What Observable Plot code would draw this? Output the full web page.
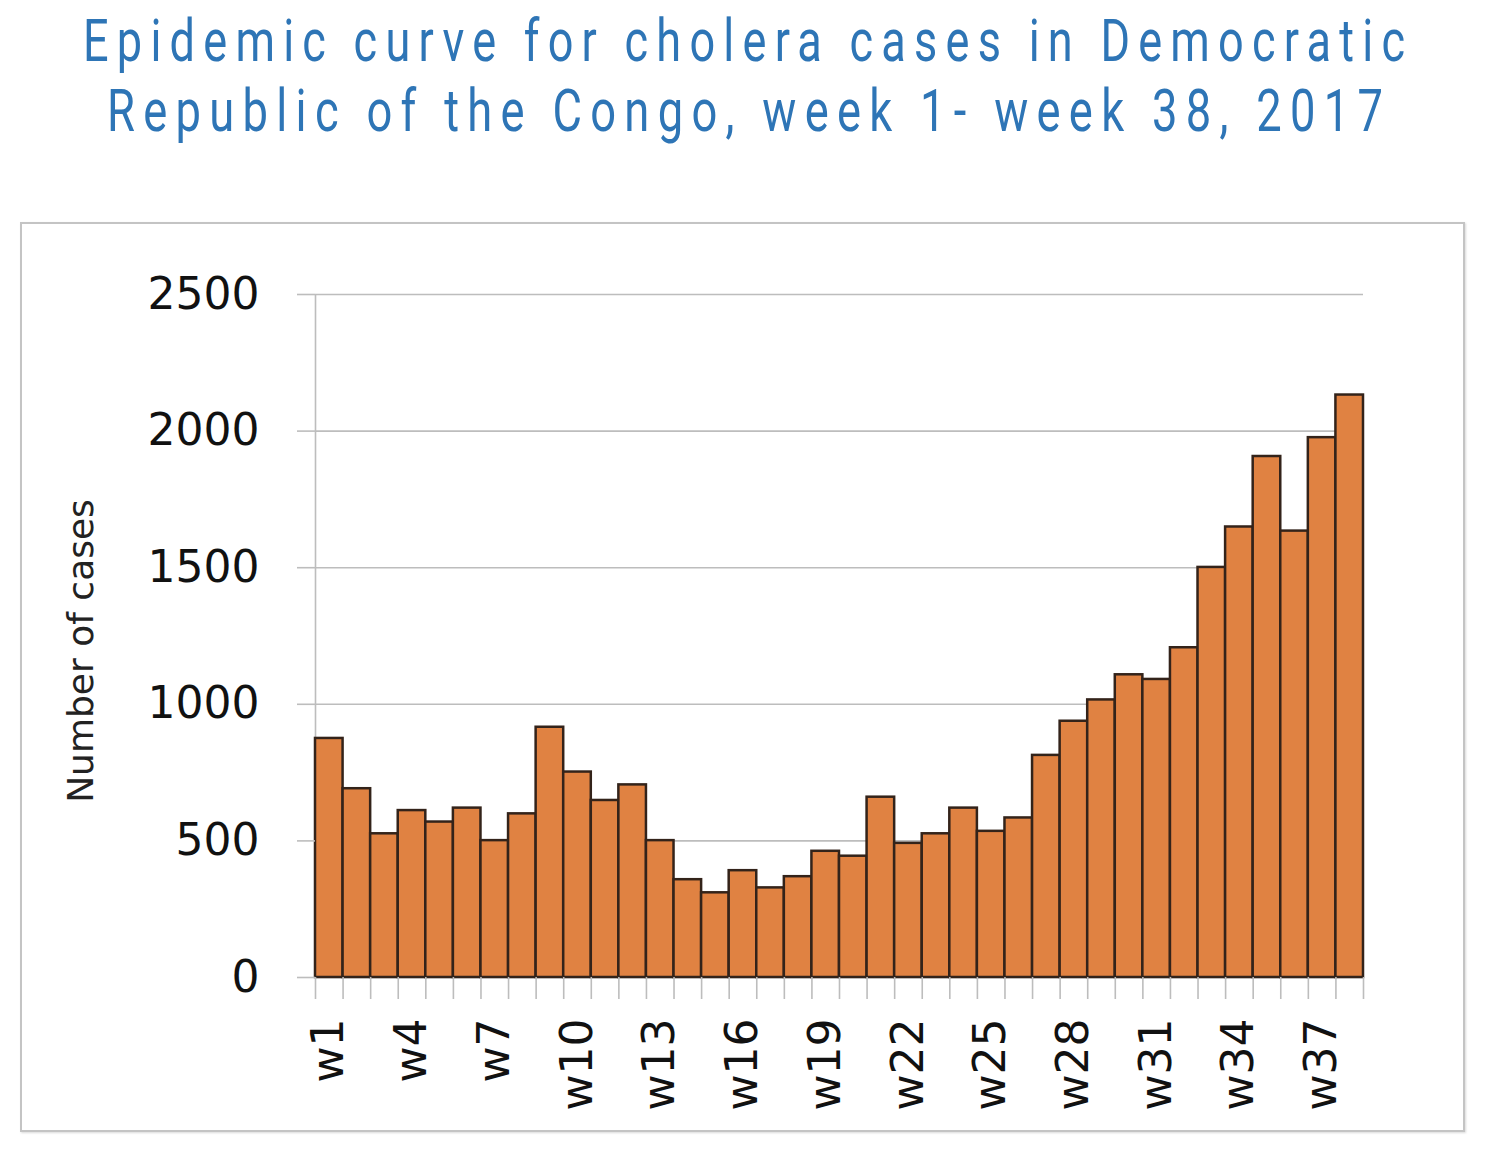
<!DOCTYPE html>
<html><head><meta charset="utf-8">
<script src="https://cdn.jsdelivr.net/npm/d3@7"></script>
<script src="https://cdn.jsdelivr.net/npm/@observablehq/plot@0.6"></script>
<style>
body{margin:0;background:#fff;width:1490px;height:1152px;position:relative;overflow:hidden}
.tl{position:absolute;left:0;color:#2e75b6;font-family:"Roboto",sans-serif;font-size:60px;line-height:70px;letter-spacing:11px;white-space:nowrap;transform-origin:0 50%}
#frame{position:absolute;left:20px;top:222px;width:1441px;height:906px;border:2px solid #c4c4c4;box-shadow:1px 1px 2px rgba(0,0,0,0.15)}
#frame svg{display:block}
</style></head>
<body>
<div class="tl" id="t1" style="top:6px">Epidemic curve for cholera cases in Democratic</div>
<div class="tl" id="t2" style="top:76px">Republic of the Congo, week 1- week 38, 2017</div>
<div id="frame"></div>
<script>
const weeks = Array.from({length: 38}, (_, i) => "w" + (i + 1));
const cases = [875, 691, 526, 611, 569, 620, 501, 599, 916, 752,
               648, 705, 501, 358, 310, 391, 328, 369, 462, 444,
               660, 491, 526, 620, 535, 584, 813, 938, 1016, 1108,
               1091, 1207, 1501, 1649, 1907, 1634, 1976, 2132];
const yTicks = [0, 500, 1000, 1500, 2000, 2500];
const shownWeeks = ["w1","w4","w7","w10","w13","w16","w19","w22","w25","w28","w31","w34","w37"];
const yLabel = "Number of cases";

// fit title lines to the reference widths and centres
[["t1", 1322, 744], ["t2", 1276, 745]].forEach(([id, w, c]) => {
  const el = document.getElementById(id);
  const W = el.getBoundingClientRect().width - 11;
  const k = w / W;
  el.style.transform = "scaleX(" + k + ")";
  el.style.left = (c - w / 2) + "px";
});

const table = weeks.map((w, i) => ({week: w, start: i, end: i + 1, mid: i + 0.5, cases: cases[i]}));
const labelRows = table.filter(d => shownWeeks.includes(d.week));
const boundaries = d3.range(0, weeks.length + 1);

const grid = "#bdbdbd";
const chart = Plot.plot({
  width: 1441, height: 906,
  marginLeft: 293, marginRight: 100, marginTop: 70, marginBottom: 153,
  x: {domain: [0, weeks.length]},
  y: {domain: [0, 2500]},
  style: {fontFamily: "DejaVu Sans", fontSize: "44px", color: "#111", background: "transparent"},
  marks: [
    Plot.gridY(yTicks, {stroke: grid, strokeOpacity: 1, strokeWidth: 1.6}),
    Plot.ruleX([0], {y1: 0, y2: 2500, stroke: grid, strokeWidth: 1.6}),
    Plot.rectY(table, {x1: "start", x2: "end", y: "cases", fill: "#e08242", stroke: "#33231a", strokeWidth: 2.5}),
    Plot.axisY(yTicks, {tickSize: 18, tickPadding: 38, stroke: grid, strokeWidth: 1.6, fill: "#111", fontSize: 44, label: null, tickFormat: d => String(d)}),
    Plot.axisX(boundaries, {tickSize: 22, tickFormat: () => "", stroke: grid, strokeWidth: 1.6, label: null}),
    Plot.text(labelRows, {x: "mid", y: 0, text: "week", rotate: -90, textAnchor: "end", lineAnchor: "middle", dy: 41, fontSize: 44, fill: "#111"}),
    Plot.text([yLabel], {frameAnchor: "left", textAnchor: "middle", lineAnchor: "middle", dx: -234, dy: 15, rotate: -90, fontSize: 36, fill: "#222"})
  ]
});
document.getElementById("frame").appendChild(chart);
</script>
</body></html>
